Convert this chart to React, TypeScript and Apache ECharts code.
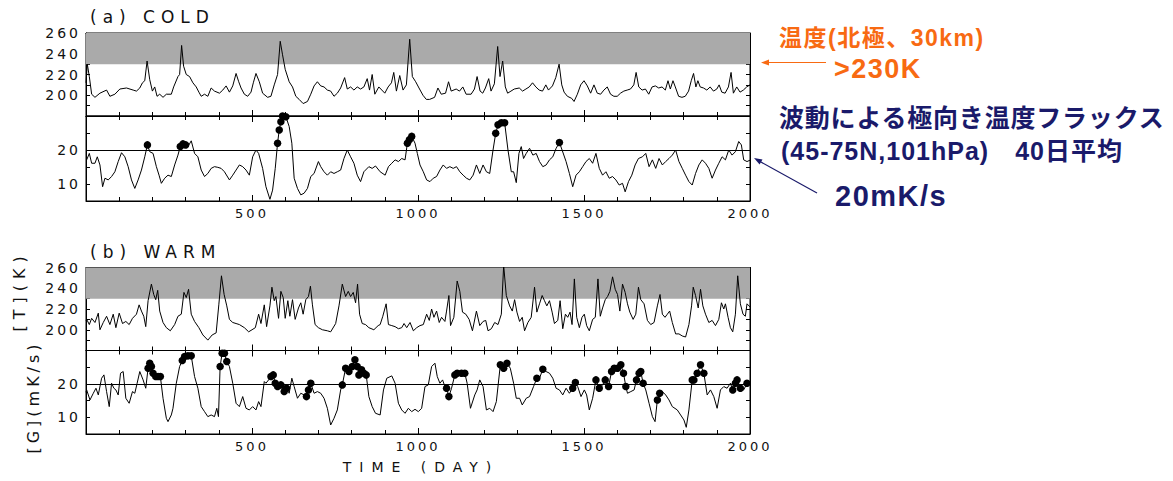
import { useEffect, useRef } from 'react';
import * as echarts from 'echarts';

// ---------------- data (day, value) ----------------
const coldT: [number, number][] = [
  [0, 212], [4, 230], [10, 218], [17, 201], [27, 198], [42, 202], [62, 205], [72, 199], [87, 201], [102, 206],
  [122, 207], [142, 205], [152, 204], [162, 207], [170, 212], [177, 214], [184, 233], [192, 215], [200, 204], [207, 208],
  [214, 199], [222, 201], [232, 198], [242, 201], [257, 201], [264, 208], [277, 218], [282, 220], [288, 248], [294, 228],
  [302, 220], [312, 218], [322, 212], [332, 208], [340, 203], [347, 199], [357, 201], [367, 199], [377, 207], [387, 204],
  [402, 202], [412, 205], [422, 209], [432, 203], [442, 209], [452, 221], [460, 213], [467, 207], [477, 201], [487, 199],
  [497, 203], [504, 212], [512, 221], [522, 213], [532, 202], [547, 198], [557, 199], [567, 210], [577, 220], [585, 252],
  [592, 239], [600, 225], [612, 213], [622, 208], [632, 199], [642, 196], [654, 192], [667, 194], [677, 201], [687, 209],
  [697, 213], [707, 209], [717, 208], [727, 205], [737, 204], [747, 199], [757, 202], [767, 207], [779, 217], [787, 206],
  [797, 208], [807, 205], [817, 208], [827, 206], [837, 208], [847, 216], [854, 205], [862, 220], [870, 201], [882, 208],
  [900, 202], [910, 208], [920, 212], [927, 222], [935, 204], [945, 219], [955, 205], [965, 210], [975, 254], [983, 218],
  [993, 213], [1003, 207], [1015, 200], [1025, 196], [1035, 196], [1050, 198], [1060, 207], [1070, 201], [1083, 202], [1092, 213],
  [1100, 204], [1115, 206], [1125, 204], [1135, 208], [1145, 201], [1160, 201], [1170, 206], [1178, 218], [1187, 204], [1195, 202],
  [1203, 207], [1213, 216], [1220, 204], [1230, 211], [1240, 247], [1247, 218], [1255, 233], [1263, 208], [1270, 202], [1280, 204],
  [1290, 206], [1305, 207], [1315, 204], [1325, 206], [1335, 208], [1345, 212], [1355, 208], [1365, 205], [1375, 204], [1385, 210],
  [1393, 205], [1405, 209], [1415, 217], [1425, 230], [1433, 210], [1440, 203], [1450, 199], [1463, 197], [1470, 194], [1480, 201],
  [1490, 210], [1500, 214], [1510, 209], [1520, 202], [1530, 210], [1540, 202], [1550, 201], [1560, 205], [1570, 208], [1580, 201],
  [1590, 199], [1600, 199], [1610, 202], [1620, 204], [1630, 205], [1640, 206], [1650, 210], [1657, 222], [1665, 208], [1675, 205],
  [1685, 206], [1695, 201], [1705, 208], [1715, 209], [1725, 207], [1735, 208], [1745, 205], [1753, 214], [1760, 206], [1768, 214],
  [1775, 208], [1785, 199], [1795, 198], [1805, 199], [1815, 204], [1823, 214], [1830, 221], [1837, 208], [1843, 214], [1850, 208],
  [1860, 207], [1870, 205], [1880, 208], [1890, 204], [1900, 206], [1907, 210], [1915, 203], [1925, 202], [1935, 208], [1943, 222],
  [1950, 202], [1960, 208], [1970, 203], [1980, 205], [1990, 208], [2000, 210],
];

const coldG: [number, number][] = [
  [2, 17.1], [10, 19], [17, 16.1], [27, 16.1], [34, 18], [42, 15.6], [50, 9.2], [57, 11.7], [67, 11.2], [77, 12.2],
  [87, 13.6], [97, 16.6], [107, 19.2], [117, 18], [127, 15.1], [137, 11.2], [147, 8.7], [157, 11.2], [167, 14.1], [177, 18],
  [185, 21.5], [192, 19.5], [202, 19], [212, 15.1], [220, 12.6], [227, 10.2], [237, 11.7], [247, 12.6], [257, 12.2], [267, 15.6],
  [277, 18.5], [284, 21], [292, 21.8], [300, 21.5], [307, 21], [317, 22.7], [327, 19], [337, 18], [347, 14.1], [357, 12.2],
  [367, 13.1], [377, 14.6], [387, 15.1], [397, 14.9], [407, 14.6], [417, 13.6], [432, 11.2], [442, 12.6], [452, 14.1], [462, 15.6],
  [472, 15.1], [482, 14.1], [492, 12.6], [502, 18], [512, 20], [520, 19], [532, 14.6], [542, 9.2], [554, 5.5], [562, 8.2],
  [570, 14.6], [577, 22], [582, 25.9], [587, 28.3], [592, 30], [602, 29.8], [612, 26.9], [620, 22], [627, 11.7], [637, 8.7],
  [647, 6.8], [657, 7.3], [667, 8.7], [677, 12.2], [687, 13.1], [700, 16.6], [707, 15.1], [717, 13.6], [727, 12.6], [737, 13.6],
  [747, 13.1], [757, 13.6], [767, 14.1], [777, 17.5], [787, 20], [797, 18], [807, 16.1], [817, 12.6], [827, 10.7], [837, 13.6],
  [852, 15.1], [862, 14.6], [872, 15.3], [886, 13.6], [901, 12.6], [911, 15.1], [921, 16.1], [931, 17.1], [941, 16.6], [951, 17.5],
  [961, 17.1], [968, 22], [974, 23], [981, 24], [991, 22], [998, 19], [1006, 15.6], [1016, 13.6], [1026, 11.2], [1036, 10.7],
  [1046, 11.7], [1056, 12.2], [1066, 14.1], [1076, 15.6], [1086, 14.6], [1096, 15.1], [1106, 14.6], [1116, 15.1], [1126, 13.6], [1136, 12.6],
  [1146, 11.7], [1156, 11.2], [1166, 12.6], [1176, 15.6], [1186, 13.1], [1196, 15.6], [1206, 13.6], [1216, 13.1], [1226, 20], [1234, 24.9],
  [1241, 27.4], [1251, 28], [1261, 28], [1271, 20], [1281, 13.6], [1288, 13.6], [1296, 10.4], [1304, 19], [1311, 21], [1318, 17.5],
  [1326, 19], [1336, 20.5], [1346, 18.5], [1356, 19], [1366, 16.6], [1376, 15.1], [1386, 15.6], [1396, 17.1], [1406, 18], [1416, 20.5],
  [1426, 22.2], [1434, 20], [1446, 16.6], [1456, 13.1], [1466, 9.2], [1476, 12.6], [1486, 13.6], [1496, 15.1], [1506, 16.6], [1516, 17.5],
  [1526, 16.1], [1536, 19], [1546, 14.6], [1556, 12.6], [1566, 13.6], [1576, 11.7], [1586, 12.2], [1596, 11.2], [1606, 9.7], [1616, 10.2],
  [1624, 7.7], [1634, 10.7], [1644, 12.6], [1654, 15.6], [1664, 17.5], [1676, 18], [1686, 19], [1696, 15.1], [1706, 17.1], [1716, 14.6],
  [1726, 17.5], [1736, 15.6], [1746, 16.6], [1756, 17.5], [1766, 18.5], [1776, 20], [1786, 16.6], [1796, 14.6], [1806, 12.6], [1816, 10.7],
  [1826, 9.7], [1836, 13.1], [1846, 15.6], [1856, 17.1], [1866, 16.1], [1876, 14.6], [1886, 11.7], [1896, 14.1], [1906, 16.1], [1916, 18],
  [1926, 17.1], [1936, 20], [1946, 18.5], [1956, 19.5], [1966, 22.5], [1974, 21.5], [1981, 17.1], [1991, 16.6], [2000, 17],
];

const warmT: [number, number][] = [
  [0, 209], [2, 210], [10, 205], [17, 211], [27, 207], [37, 216], [42, 200], [52, 207], [62, 213], [72, 205], [82, 215],
  [90, 202], [100, 216], [110, 206], [120, 208], [130, 205], [140, 211], [152, 215], [160, 224], [167, 218], [174, 213],
  [180, 203], [187, 228], [197, 244], [204, 234], [210, 229], [216, 238], [222, 218], [232, 207], [242, 202], [254, 199],
  [267, 205], [277, 213], [287, 215], [295, 236], [302, 231], [309, 239], [317, 215], [327, 208], [340, 202], [352, 195],
  [367, 190], [380, 195], [392, 197], [400, 224], [408, 252], [416, 234], [424, 223], [432, 210], [442, 207], [452, 206],
  [462, 205], [477, 202], [490, 198], [500, 200], [510, 202], [520, 215], [527, 206], [537, 224], [544, 203], [554, 223],
  [560, 241], [567, 228], [572, 232], [580, 211], [587, 237], [594, 231], [600, 211], [608, 228], [614, 213], [622, 229],
  [630, 210], [640, 221], [647, 226], [654, 215], [662, 229], [670, 232], [676, 242], [682, 224], [690, 205], [700, 202],
  [712, 200], [727, 199], [737, 198], [752, 206], [762, 223], [772, 244], [782, 232], [790, 237], [797, 232], [805, 236],
  [812, 226], [818, 244], [824, 215], [832, 206], [842, 205], [852, 202], [867, 200], [880, 204], [886, 205], [894, 213],
  [904, 225], [911, 205], [921, 204], [931, 203], [941, 201], [951, 202], [958, 206], [966, 202], [976, 207], [986, 199],
  [996, 202], [1006, 204], [1016, 205], [1026, 215], [1034, 209], [1041, 220], [1048, 212], [1056, 218], [1064, 207], [1071, 212],
  [1081, 208], [1086, 218], [1093, 233], [1098, 204], [1108, 212], [1118, 247], [1126, 237], [1134, 217], [1144, 215], [1154, 210],
  [1164, 199], [1176, 218], [1186, 204], [1196, 208], [1204, 209], [1211, 199], [1221, 201], [1231, 207], [1241, 205], [1251, 215],
  [1258, 262], [1266, 233], [1276, 223], [1284, 218], [1291, 229], [1298, 217], [1306, 208], [1314, 212], [1321, 199], [1331, 207],
  [1341, 212], [1351, 241], [1358, 217], [1366, 225], [1374, 233], [1381, 228], [1388, 223], [1396, 228], [1404, 217], [1411, 206],
  [1421, 209], [1428, 228], [1436, 201], [1444, 215], [1451, 212], [1458, 217], [1464, 205], [1471, 249], [1478, 212], [1486, 202],
  [1494, 212], [1501, 215], [1508, 204], [1516, 199], [1526, 210], [1534, 212], [1542, 249], [1549, 213], [1556, 221], [1564, 229],
  [1571, 232], [1578, 237], [1586, 251], [1594, 239], [1601, 234], [1608, 218], [1616, 244], [1624, 236], [1631, 225], [1638, 217],
  [1648, 210], [1656, 215], [1664, 241], [1671, 229], [1681, 225], [1691, 209], [1701, 205], [1711, 207], [1721, 223], [1729, 234],
  [1736, 215], [1744, 212], [1751, 215], [1758, 218], [1766, 207], [1776, 196], [1786, 196], [1796, 194], [1806, 193], [1816, 205],
  [1824, 223], [1829, 241], [1836, 233], [1844, 221], [1851, 239], [1858, 223], [1866, 215], [1876, 207], [1886, 209], [1896, 204],
  [1906, 210], [1914, 226], [1921, 220], [1926, 225], [1934, 212], [1941, 202], [1948, 198], [1956, 215], [1963, 252], [1971, 225],
  [1979, 215], [1986, 213], [1991, 225], [2000, 222],
];

const warmG: [number, number][] = [
  [0, 17.5], [2, 18.2], [12, 15.2], [22, 17.2], [30, 18.7], [37, 16.7], [47, 21.7], [54, 22.7], [62, 17.7], [70, 13.2], [77, 20.2],
  [84, 18.7], [90, 18.2], [97, 16.7], [104, 23.2], [112, 23.7], [120, 15.7], [130, 14.2], [140, 17.7], [147, 17.2], [154, 20.2],
  [162, 23.7], [172, 21.2], [180, 18.7], [187, 24.7], [192, 26.2], [197, 25.2], [202, 23.2], [210, 22.2], [217, 22.2], [224, 22.2],
  [232, 15.7], [242, 9.7], [247, 8.7], [257, 10.7], [262, 12.7], [272, 20.2], [282, 25.2], [290, 27], [297, 28.2], [307, 28.4],
  [317, 28.4], [327, 22.2], [337, 18.7], [347, 13.2], [357, 11.7], [367, 10.2], [377, 10.7], [387, 10.2], [394, 12.7], [399, 10.2],
  [404, 25.2], [410, 29.2], [417, 29.2], [424, 26.7], [432, 25.2], [442, 20.2], [452, 14.2], [462, 13.2], [472, 16.2], [482, 12.7],
  [492, 12.2], [502, 13.2], [512, 12.2], [520, 14.7], [527, 13.2], [537, 20.7], [542, 20.2], [550, 21.2], [557, 22.2], [564, 22.7],
  [570, 20.2], [577, 19.2], [587, 19.7], [597, 17.7], [604, 18.7], [612, 17.2], [620, 21.7], [627, 19.2], [637, 15.7], [647, 17.2],
  [657, 16.7], [664, 16.2], [670, 18.2], [677, 20.2], [687, 17.2], [697, 17.7], [707, 17.2], [717, 15.7], [727, 12.7], [737, 7.7],
  [747, 9.7], [757, 12.2], [767, 18.2], [772, 19.7], [782, 24.7], [792, 23.7], [802, 25.2], [810, 27.2], [817, 25.2], [822, 22.7],
  [830, 24.2], [837, 23.2], [844, 22.7], [852, 16.2], [862, 13.2], [872, 11.2], [886, 10.7], [896, 18.2], [906, 21.7], [921, 22.4],
  [931, 20.2], [941, 14.2], [951, 12.2], [961, 11.2], [971, 12.7], [981, 11.7], [991, 12.4], [1001, 11.7], [1011, 12.7], [1021, 19.2],
  [1031, 19.7], [1041, 25.2], [1051, 26.2], [1058, 22.2], [1066, 20.2], [1074, 21.2], [1081, 19.2], [1086, 18.7], [1093, 16.2], [1101, 18.7],
  [1111, 22.7], [1118, 23.2], [1131, 23.2], [1141, 23.2], [1148, 20.2], [1158, 12.7], [1171, 16.7], [1178, 18.2], [1186, 21.2], [1196, 19.2],
  [1206, 12.2], [1216, 12.7], [1226, 11.7], [1236, 14.7], [1248, 25.7], [1258, 24.7], [1268, 26.2], [1278, 24.7], [1288, 20.2], [1296, 15.7],
  [1306, 15.7], [1314, 13.7], [1326, 15.7], [1336, 16.2], [1348, 19.2], [1358, 21.7], [1366, 21.7], [1376, 24.4], [1386, 23.7], [1396, 23.2],
  [1406, 21.7], [1416, 18.7], [1426, 18.2], [1436, 16.7], [1446, 18.7], [1456, 17.2], [1466, 18.7], [1474, 20.4], [1481, 19.2], [1491, 16.2],
  [1501, 18.2], [1508, 16.7], [1516, 12.2], [1526, 15.7], [1536, 21.2], [1546, 18.7], [1556, 19.7], [1564, 21.2], [1574, 19.2], [1583, 23.7],
  [1591, 24.7], [1601, 24.7], [1611, 25.7], [1619, 23.2], [1626, 19.2], [1631, 17.2], [1641, 17.7], [1651, 18.2], [1658, 21.2], [1666, 23.2],
  [1671, 23.7], [1678, 20.2], [1686, 18.2], [1696, 14.2], [1706, 10.2], [1714, 8.7], [1721, 15.2], [1728, 17.2], [1736, 17.7], [1746, 16.7],
  [1756, 15.2], [1766, 13.2], [1781, 12.2], [1791, 10.7], [1801, 9.2], [1808, 7], [1816, 12.2], [1826, 21.2], [1831, 21.2], [1841, 23.2],
  [1851, 25.7], [1861, 23.2], [1871, 16.7], [1881, 18.2], [1891, 16.2], [1901, 12.7], [1911, 18.2], [1921, 19.2], [1931, 18.7], [1941, 20.2],
  [1948, 18.2], [1956, 20.2], [1961, 21.2], [1971, 18.7], [1981, 18.2], [1991, 20.2], [2000, 20],
];

// day ranges where the flux points are marked with dots
const coldEvents: [number, number][] = [[183, 187], [282, 302], [575, 604], [966, 986], [1232, 1262], [1422, 1430]];
const warmEvents: [number, number][] = [
  [186, 226], [288, 320], [402, 426], [555, 572], [577, 606], [660, 680], [770, 848], [1086, 1094], [1110, 1142],
  [1245, 1272], [1356, 1360], [1374, 1378], [1464, 1476], [1532, 1550], [1560, 1628], [1655, 1678], [1720, 1730],
  [1825, 1862], [1948, 1972], [1988, 1995],
];

const T_BAND: [number, number] = [230, 260];
const G_REF = 20;
const T_RANGE = { min: 180, max: 260, interval: 20 };
const G_RANGE = { min: 5, max: 30, interval: 5 };
const G_LABELS = [10, 20];
const DAY_RANGE = { min: 0, max: 2000, interval: 500 };

const TXT = {
  titleA: '(a) COLD',
  titleB: '(b) WARM',
  xName: 'TIME (DAY)',
  yT: '[T](K)',
  yG: '[G](mK/s)',
  ann1: '温度(北極、30km)',
  ann2: '>230K',
  ann3: '波動による極向き温度フラックス',
  ann4: '(45-75N,101hPa)　40日平均',
  ann5: '20mK/s',
};

const LETTER_SPACING: Record<string, number> = {
  [TXT.titleA]: 6,
  [TXT.titleB]: 6,
  [TXT.xName]: 8,
  [TXT.yT]: 6,
  [TXT.yG]: 4,
  [TXT.ann1]: 1.5,
  [TXT.ann2]: 1.5,
  [TXT.ann3]: 0.8,
  [TXT.ann4]: 1,
  [TXT.ann5]: 1.5,
};

const pick = (s: [number, number][], r: [number, number][]) =>
  s.filter(([d]) => r.some(([a, b]) => d >= a && d <= b));

const FONT = 'DejaVu Sans';
const AFONT = "'Liberation Sans','Noto Sans CJK JP',sans-serif";
const ORANGE = '#f86a12';
const NAVY = '#1a1a6a';

function applySpacing(root: HTMLElement) {
  root.querySelectorAll('text').forEach((t) => {
    const s = (t.textContent || '').trim();
    let v = LETTER_SPACING[s];
    if (v === undefined && /^\d+$/.test(s)) v = 3;
    if (v !== undefined) t.setAttribute('letter-spacing', String(v));
  });
}

export default function App() {
  const ref = useRef<HTMLDivElement>(null);
  useEffect(() => {
    if (!ref.current) return;
    const chart = echarts.init(ref.current, undefined, { renderer: 'svg' });
    const grids = [
      { left: 86, width: 664, top: 33, height: 83 },
      { left: 86, width: 664, top: 116, height: 85 },
      { left: 86, width: 664, top: 267.5, height: 83 },
      { left: 86, width: 664, top: 350.5, height: 83.5 },
    ].map((g) => ({ ...g, show: true, borderColor: '#000', borderWidth: 1, backgroundColor: 'transparent' }));

    const tickLine = { color: '#000', width: 1 };
    const xAxes: any[] = [];
    const yAxes: any[] = [];
    grids.forEach((_, i) => {
      ['bottom', 'top'].forEach((pos) => {
        xAxes.push({
          type: 'value', gridIndex: i, position: pos, ...DAY_RANGE,
          axisLine: { show: true, onZero: false, lineStyle: tickLine },
          axisTick: { show: true, inside: true, length: 6, lineStyle: tickLine },
          minorTick: { show: true, splitNumber: 5, length: 4, lineStyle: tickLine },
          splitLine: { show: false }, minorSplitLine: { show: false },
          axisLabel: {
            show: pos === 'bottom' && (i === 1 || i === 3), showMinLabel: false, margin: 6,
            fontSize: 13, color: '#111', fontFamily: FONT,
            formatter: (v: number) => String(v),
          },
        });
      });
      const isT = i % 2 === 0;
      ['left', 'right'].forEach((pos) => {
        yAxes.push({
          type: 'value', gridIndex: i, position: pos, ...(isT ? T_RANGE : G_RANGE),
          axisLine: { show: true, onZero: false, lineStyle: tickLine },
          axisTick: { show: true, inside: true, length: 4, lineStyle: tickLine },
          minorTick: { show: isT, splitNumber: 2, length: 4, lineStyle: tickLine },
          splitLine: { show: false }, minorSplitLine: { show: false },
          axisLabel: {
            show: pos === 'left', showMinLabel: !isT, margin: 5,
            fontSize: 14, color: '#111', fontFamily: FONT,
            formatter: isT ? (v: number) => String(v) : (v: number) => (G_LABELS.includes(v) ? String(v) : ''),
          },
        });
      });
    });

    const tSeries = (data: [number, number][], i: number) => ({
      type: 'line', xAxisIndex: 2 * i, yAxisIndex: 2 * i, data, showSymbol: false, symbol: 'none',
      lineStyle: { color: '#000', width: 1 }, z: 3, silent: true,
      markArea: { silent: true, itemStyle: { color: '#aaaaaa', opacity: 1 }, data: [[{ yAxis: T_BAND[0] }, { yAxis: T_BAND[1] }]] },
    });
    const gSeries = (data: [number, number][], i: number) => ({
      type: 'line', xAxisIndex: 2 * i, yAxisIndex: 2 * i, data, showSymbol: false, symbol: 'none',
      lineStyle: { color: '#000', width: 1 }, z: 3, silent: true,
      markLine: {
        silent: true, symbol: ['none', 'none'], label: { show: false },
        lineStyle: { color: '#000', width: 1, type: 'solid' }, data: [{ yAxis: G_REF }],
      },
    });
    const dots = (data: [number, number][], i: number) => ({
      type: 'scatter', xAxisIndex: 2 * i, yAxisIndex: 2 * i, data, symbol: 'circle', symbolSize: 7.5,
      itemStyle: { color: '#000', opacity: 1 }, z: 4, silent: true, clip: false,
    });

    const txt = (text: string, x: number, y: number, o: any = {}) => ({
      type: 'text', x, y, silent: true, rotation: o.rotation || 0,
      style: {
        text, fill: o.fill || '#111', font: o.font || `normal 15px '${FONT}'`,
        align: o.align || 'left', verticalAlign: 'middle',
      },
    });

    chart.setOption({
      animation: false,
      grid: grids,
      xAxis: xAxes,
      yAxis: yAxes,
      series: [
        tSeries(coldT, 0), gSeries(coldG, 1), dots(pick(coldG, coldEvents), 1),
        tSeries(warmT, 2), gSeries(warmG, 3), dots(pick(warmG, warmEvents), 3),
      ],
      graphic: [
        txt(TXT.titleA, 90, 17, { font: `normal 17px '${FONT}'` }),
        txt(TXT.titleB, 90, 252, { font: `normal 17px '${FONT}'` }),
        txt(TXT.xName, 421, 467, { align: 'center', font: `normal 14px '${FONT}'` }),
        txt(TXT.yT, 19, 291, { align: 'center', rotation: Math.PI / 2, font: `normal 16px '${FONT}'` }),
        txt(TXT.yG, 33, 397, { align: 'center', rotation: Math.PI / 2, font: `normal 16px '${FONT}'` }),
        txt(TXT.ann1, 779, 38, { fill: ORANGE, font: `bold 23px ${AFONT}` }),
        txt(TXT.ann2, 834, 69, { fill: ORANGE, font: `bold 27px ${AFONT}` }),
        txt(TXT.ann3, 779, 118, { fill: NAVY, font: `bold 25px ${AFONT}` }),
        txt(TXT.ann4, 781, 151, { fill: NAVY, font: `bold 25px ${AFONT}` }),
        txt(TXT.ann5, 835, 196, { fill: NAVY, font: `bold 29px ${AFONT}` }),
        { type: 'line', silent: true, shape: { x1: 826, y1: 62.5, x2: 768, y2: 62.5 }, style: { stroke: ORANGE, lineWidth: 1.2 } },
        { type: 'polygon', silent: true, shape: { points: [[761, 62.5], [769, 59.5], [769, 65.5]] }, style: { fill: ORANGE } },
        { type: 'line', silent: true, shape: { x1: 817, y1: 193, x2: 760, y2: 161.5 }, style: { stroke: NAVY, lineWidth: 1.2 } },
        { type: 'polygon', silent: true, shape: { points: [[754, 158], [762.5, 159.4], [759.6, 164.6]] }, style: { fill: NAVY } },
      ],
    });
    const el = ref.current;
    applySpacing(el);
    chart.on('finished', () => applySpacing(el));
    const t = setTimeout(() => applySpacing(el), 50);
    return () => {
      clearTimeout(t);
      chart.dispose();
    };
  }, []);
  return <div ref={ref} style={{ position: 'fixed', left: 0, top: 0, width: 1173, height: 481, background: '#fff' }} />;
}
